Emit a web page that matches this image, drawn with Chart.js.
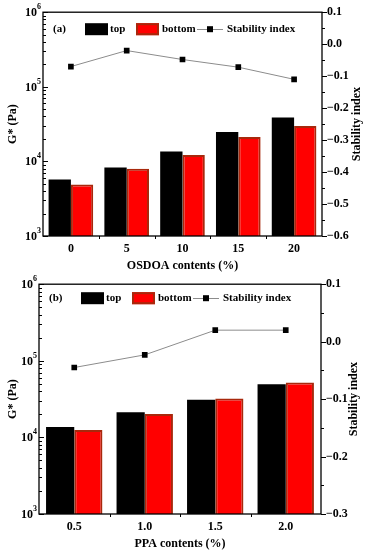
<!DOCTYPE html>
<html>
<head>
<meta charset="utf-8">
<script src="https://cdn.jsdelivr.net/npm/chart.js@4.4.0/dist/chart.umd.min.js"></script>
<style>
  html, body { margin: 0; padding: 0; background: #fff; }
  #wrap { position: relative; width: 367px; height: 550px; }
  canvas { position: absolute; left: 0; }
</style>
</head>
<body>
<div id="wrap">
  <canvas id="chartA" width="367" height="272" style="top:0"></canvas>
  <canvas id="chartB" width="367" height="278" style="top:272px"></canvas>
</div>
<script>
// panel (a): OSDOA
const osdoaLabels = ['0', '5', '10', '15', '20'];
const osdoaTop = [5700, 8300, 13600, 24800, 38900];
const osdoaBottom = [4900, 8000, 12200, 21300, 29800];
const osdoaStability = [-0.07, -0.02, -0.048, -0.072, -0.11];
const osdoaIndexRange = [-0.6, 0.1];

// panel (b): PPA
const ppaLabels = ['0.5', '1.0', '1.5', '2.0'];
const ppaTop = [13700, 21300, 31000, 49500];
const ppaBottom = [12500, 20200, 32300, 52100];
const ppaStability = [-0.045, -0.023, 0.02, 0.02];
const ppaIndexRange = [-0.3, 0.1];

// G* axis
const gExponents = [3, 4, 5, 6];

const FONT = "'Liberation Serif', 'Times New Roman', serif";

const panelPlugin = {
    id: 'panel',
    afterDatasetsDraw(chart, args, opts) {
        const ctx = chart.ctx;
        const area = chart.chartArea;
        const x = chart.scales.x, y = chart.scales.y, y1 = chart.scales.y1;
        const px = v => Math.round(v) + 0.5;

        ctx.save();
        ctx.strokeStyle = '#000';
        ctx.fillStyle = '#000';

        // frame
        ctx.lineWidth = 1.3;
        ctx.strokeRect(area.left, area.top, area.right - area.left, area.bottom - area.top);

        // log ticks on the left, pointing in
        ctx.lineWidth = 1;
        ctx.beginPath();
        for (let e = gExponents[0]; e < gExponents[gExponents.length - 1]; e++) {
            for (let k = 2; k <= 9; k++) {
                const py = px(y.getPixelForValue(k * Math.pow(10, e)));
                ctx.moveTo(area.left, py);
                ctx.lineTo(area.left + 3, py);
            }
        }
        gExponents.forEach(function (e) {
            const py = px(y.getPixelForValue(Math.pow(10, e)));
            ctx.moveTo(area.left, py);
            ctx.lineTo(area.left + 5, py);
        });
        ctx.stroke();

        // left labels 10^n
        gExponents.forEach(function (e) {
            const py = y.getPixelForValue(Math.pow(10, e));
            ctx.font = 'bold 8px ' + FONT;
            const ew = ctx.measureText(String(e)).width;
            ctx.textAlign = 'left';
            ctx.textBaseline = 'middle';
            ctx.fillText(String(e), area.left - 2 - ew, py - 5);
            ctx.font = 'bold 12px ' + FONT;
            ctx.textAlign = 'right';
            ctx.fillText('10', area.left - 2 - ew, py + 1);
        });

        // right ticks, pointing out
        ctx.beginPath();
        const steps = Math.round((y1.max - y1.min) / 0.05);
        for (let i = 0; i <= steps; i++) {
            const py = px(y1.getPixelForValue(y1.min + i * 0.05));
            ctx.moveTo(area.right, py);
            ctx.lineTo(area.right + (i % 2 === 0 ? 5 : 3), py);
        }
        // x ticks between categories
        for (let i = 0; i < x.ticks.length - 1; i++) {
            const bx = px((x.getPixelForValue(i) + x.getPixelForValue(i + 1)) / 2);
            ctx.moveTo(bx, area.bottom);
            ctx.lineTo(bx, area.bottom + 3);
        }
        ctx.stroke();

        // axis titles
        ctx.font = 'bold 12px ' + FONT;
        ctx.textAlign = 'center';
        ctx.textBaseline = 'middle';
        ctx.fillText(opts.xTitle, (area.left + area.right) / 2, area.bottom + 30);

        const cy = (area.top + area.bottom) / 2;
        ctx.save();
        ctx.translate(13, cy);
        ctx.rotate(-Math.PI / 2);
        ctx.fillText('G* (Pa)', 0, 0);
        ctx.restore();
        ctx.save();
        ctx.translate(area.right + opts.rightTitleGap, cy);
        ctx.rotate(-Math.PI / 2);
        ctx.fillText('Stability index', 0, 0);
        ctx.restore();

        // legend inside the plot
        const ds = chart.data.datasets;
        const lx = area.left, ly = area.top + opts.legendY;
        ctx.font = 'bold 11px ' + FONT;
        ctx.textAlign = 'left';
        ctx.fillText(opts.tag, lx + 10, ly + 6);

        ctx.fillStyle = ds[0].backgroundColor;
        ctx.fillRect(lx + 42, ly, 23, 12);
        ctx.fillStyle = '#000';
        ctx.fillText(ds[0].label, lx + 67, ly + 6);

        ctx.fillStyle = ds[1].backgroundColor;
        ctx.fillRect(lx + 93, ly, 23, 12);
        ctx.strokeStyle = ds[1].borderColor;
        ctx.lineWidth = 2;
        ctx.strokeRect(lx + 94, ly + 1, 21, 10);
        ctx.fillStyle = '#000';
        ctx.fillText(ds[1].label, lx + 119, ly + 6);

        ctx.strokeStyle = ds[2].borderColor;
        ctx.lineWidth = 1;
        ctx.beginPath();
        ctx.moveTo(lx + 154, px(ly + 6));
        ctx.lineTo(lx + 180, px(ly + 6));
        ctx.stroke();
        ctx.fillStyle = '#000';
        ctx.fillRect(lx + 164, ly + 3, 6, 6);
        ctx.fillText(ds[2].label, lx + 184, ly + 6);

        ctx.restore();
    }
};

const makePanel = function (id, labels, top, bottom, stability, range, panelOpts) {

    const DATA = {
        labels: labels,
        datasets: [{
            type: 'bar',
            label: 'top',
            data: top,
            yAxisID: 'y',
            backgroundColor: '#000000',
            borderWidth: 0,
            order: 1
        }, {
            type: 'bar',
            label: 'bottom',
            data: bottom,
            yAxisID: 'y',
            backgroundColor: '#ff0000',
            borderColor: '#a8280c',
            borderWidth: 2,
            order: 1
        }, {
            type: 'line',
            label: 'Stability index',
            data: stability,
            yAxisID: 'y1',
            borderColor: '#8c8c8c',
            borderWidth: 1,
            pointStyle: 'rect',
            pointRadius: 4,
            pointBackgroundColor: '#000',
            pointBorderColor: '#000',
            pointBorderWidth: 0,
            order: 0
        }]
    };

    const CONFIG = {
        type: 'bar',
        data: DATA,
        options: {
            responsive: false,
            animation: false,
            devicePixelRatio: 1,
            layout: { padding: { top: 10, left: 0, right: 0, bottom: 0 } },
            datasets: { bar: { categoryPercentage: 0.8, barPercentage: 1.0 } },
            plugins: {
                legend: { display: false },
                tooltip: { enabled: false },
                panel: panelOpts
            },
            scales: {
                x: {
                    type: 'category',
                    offset: true,
                    grid: { display: false, drawTicks: false },
                    border: { display: false },
                    ticks: { color: '#000', padding: 6, font: { family: FONT, size: 12, weight: 'bold' } },
                    afterFit: function (scale) { scale.height = 36; }
                },
                y: {
                    type: 'logarithmic',
                    position: 'left',
                    min: Math.pow(10, gExponents[0]),
                    max: Math.pow(10, gExponents[gExponents.length - 1]),
                    grid: { display: false, drawTicks: false },
                    border: { display: false },
                    ticks: { display: false },
                    afterFit: function (scale) { scale.width = panelOpts.leftWidth; }
                },
                y1: {
                    type: 'linear',
                    position: 'right',
                    min: range[0],
                    max: range[1],
                    grid: { display: false, drawTicks: false },
                    border: { display: false },
                    ticks: {
                        stepSize: 0.1,
                        padding: 5,
                        color: '#000',
                        font: { family: FONT, size: 12, weight: 'bold' },
                        callback: function (v) {
                            if (Math.abs(v) < 1e-9) return '0.0';
                            return v.toFixed(1).replace('-', '\u2212');
                        }
                    },
                    afterFit: function (scale) { scale.width = panelOpts.rightWidth; }
                }
            }
        },
        plugins: [panelPlugin]
    };

    return new Chart(document.querySelector(id), CONFIG);
};

makePanel('#chartA', osdoaLabels, osdoaTop, osdoaBottom, osdoaStability, osdoaIndexRange, {
    tag: '(a)', xTitle: 'OSDOA contents (%)', legendY: 11, rightTitleGap: 35, leftWidth: 43, rightWidth: 45
});
makePanel('#chartB', ppaLabels, ppaTop, ppaBottom, ppaStability, ppaIndexRange, {
    tag: '(b)', xTitle: 'PPA contents (%)', legendY: 8, rightTitleGap: 33, leftWidth: 39, rightWidth: 46
});
</script>
</body>
</html>
